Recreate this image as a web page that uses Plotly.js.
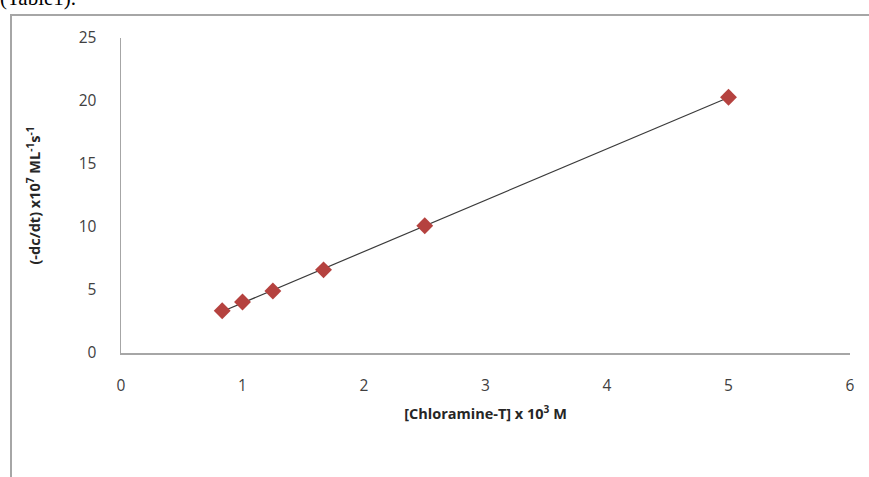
<!DOCTYPE html>
<html>
<head>
<meta charset="utf-8">
<script src="https://cdn.plot.ly/plotly-3.0.1.min.js"></script>
<style>
html,body{margin:0;padding:0;background:#fff;overflow:hidden;}
#wrap{position:relative;width:869px;height:477px;overflow:hidden;}
#frame{position:absolute;left:10px;top:14px;width:900px;height:500px;border-left:2px solid #a6a6a6;border-top:2px solid #a6a6a6;}
#cap{position:absolute;left:0px;top:-14px;font-family:"Liberation Serif",serif;font-size:21px;color:#000;}
#chart{position:absolute;left:0;top:0;width:869px;height:477px;}
</style>
</head>
<body>
<div id="wrap">
<div id="cap">(Table1).</div>
<div id="frame"></div>
<div id="chart"></div>
</div>
<script>
const chloramineT = [0.833, 1.0, 1.25, 1.667, 2.5, 5.0];
const rate = [3.35, 4.05, 4.92, 6.6, 10.1, 20.3];
const xTicks = [0, 1, 2, 3, 4, 5, 6];
const yTicks = [0, 5, 10, 15, 20, 25];

// least-squares trendline
const n = chloramineT.length;
const mx = chloramineT.reduce((a,b)=>a+b,0)/n;
const my = rate.reduce((a,b)=>a+b,0)/n;
let sxy=0, sxx=0;
for(let i=0;i<n;i++){sxy+=(chloramineT[i]-mx)*(rate[i]-my);sxx+=(chloramineT[i]-mx)**2;}
const slope=sxy/sxx, icpt=my-slope*mx;
const xmin=Math.min(...chloramineT), xmax=Math.max(...chloramineT);
const lineX=[xmin,xmax], lineY=lineX.map(v=>icpt+slope*v);

const data=[
 {x:lineX,y:lineY,mode:'lines',line:{color:'#3a3a3a',width:1.2},hoverinfo:'skip',showlegend:false},
 {x:chloramineT,y:rate,mode:'markers',marker:{symbol:'diamond',size:13,color:'#b5423f'},showlegend:false}
];
const axFont={family:'"Open Sans","Liberation Sans",sans-serif',size:15.5,color:'#404040'};
const titleFont={family:'"Open Sans","Liberation Sans",sans-serif',size:14.5,color:'#262626'};
const layout={
 width:869,height:477,
 margin:{l:121,r:19,t:38,b:124,pad:0},
 paper_bgcolor:'rgba(0,0,0,0)',plot_bgcolor:'rgba(0,0,0,0)',
 xaxis:{range:[0,6],tickvals:xTicks,ticktext:xTicks.map(String),showgrid:false,zeroline:false,
   showline:true,linecolor:'#a6a6a6',linewidth:1.5,ticks:'',tickfont:axFont,ticklabelstandoff:18,
   title:{text:'<b>[Chloramine-T] x 10<sup>3</sup> M</b>',font:titleFont,standoff:14}},
 yaxis:{range:[0,25],tickvals:yTicks,ticktext:yTicks.map(String),showgrid:false,zeroline:false,
   showline:true,linecolor:'#a6a6a6',linewidth:1.5,ticks:'',tickfont:axFont,ticklabelstandoff:20,
   title:{text:'<b>(-dc/dt) x10<sup>7</sup> ML<sup>-1</sup>s<sup>-1</sup></b>',font:titleFont,standoff:34}}
};
Plotly.newPlot('chart',data,layout,{staticPlot:true,displayModeBar:false});
</script>
</body>
</html>
